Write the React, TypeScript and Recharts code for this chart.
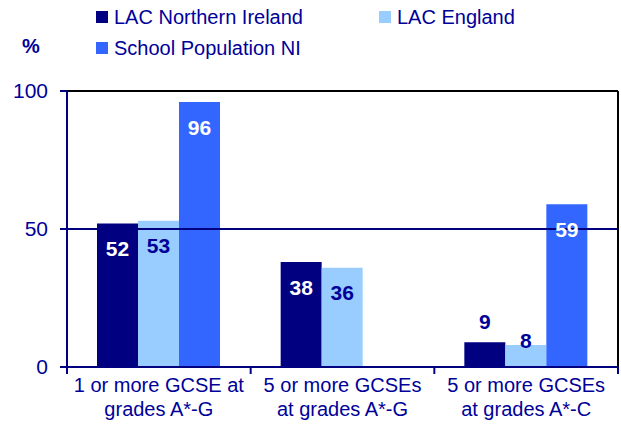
import { BarChart, Bar, XAxis, YAxis, ReferenceLine, LabelList } from 'recharts'

const categories = ['1 or more GCSE at|grades A*-G', '5 or more GCSEs|at grades A*-G', '5 or more GCSEs|at grades A*-C']
const lacNorthernIreland = [52, 38, 9]
const lacEngland = [53, 36, 8]
const schoolPopulationNI = [96, null, 59]
const yTicks = [0, 50, 100]

const NAVY = '#000080'
const TEXT = '#000099'
const LIGHT = '#99CCFF'
const BLUE = '#3366FF'
const FONT = '"Liberation Sans", Arial, sans-serif'

const data = categories.map((name, i) => ({
    name,
    ni: lacNorthernIreland[i],
    eng: lacEngland[i],
    school: schoolPopulationNI[i],
}))

const legendItems = [
    { name: 'LAC Northern Ireland', color: NAVY, left: 96, top: 17 },
    { name: 'LAC England', color: LIGHT, left: 379, top: 17 },
    { name: 'School Population NI', color: BLUE, left: 96, top: 48 },
]

// inside-top label, small bars get it above the bar
const makeLabel = (inside: string, smallOffset: number) => (props: any) => {
    const { x, y, width, value } = props
    if (value === null || value === undefined) return null
    const v = Number(value)
    const small = v < 15
    const cy = small ? Number(y) - smallOffset : Number(y) + 25
    return (
        <text
            x={Number(x) + Number(width) / 2}
            y={cy}
            dy="0.36em"
            textAnchor="middle"
            fill={small ? TEXT : inside}
            fontSize={21}
            fontWeight="bold"
            fontFamily={FONT}
        >
            {v}
        </text>
    )
}

const CategoryTick = (props: any) => {
    const { x, y, payload, index } = props
    const half = payload && payload.offset ? payload.offset : 91.8
    const lines = String(payload.value).split('|')
    return (
        <g>
            <line x1={x - half} x2={x - half} y1={y} y2={y + 7} stroke={NAVY} strokeWidth={2} />
            {index === categories.length - 1 && (
                <line x1={x + half} x2={x + half} y1={y} y2={y + 7} stroke={NAVY} strokeWidth={2} />
            )}
            {lines.map((l, i) => (
                <text key={l} x={x} y={y + 25 + i * 24} textAnchor="middle" fill={TEXT} fontSize={20} fontFamily={FONT}>
                    {l}
                </text>
            ))}
        </g>
    )
}

const App = () => {
    return (
        <div style={{ position: 'absolute', left: 0, top: 0, width: 621, height: 432, fontFamily: FONT, background: '#fff' }}>
            {legendItems.map((item) => (
                <div key={item.name} style={{ position: 'absolute', left: item.left, top: item.top - 12, height: 24, display: 'flex', alignItems: 'center' }}>
                    <div style={{ width: 12, height: 12, background: item.color, marginRight: 6 }} />
                    <span style={{ color: TEXT, fontSize: 20 }}>{item.name}</span>
                </div>
            ))}
            <div style={{ position: 'absolute', left: 22, top: 35, color: TEXT, fontSize: 20, fontWeight: 'bold' }}>%</div>
            <BarChart
                width={621}
                height={432}
                data={data}
                margin={{ top: 91, right: 0, left: 0, bottom: 0 }}
                barGap={0}
                barSize={41}
            >
                <ReferenceLine y={50} stroke={NAVY} strokeWidth={2} />
                <ReferenceLine y={100} stroke="#000" strokeWidth={2} />
                <XAxis
                    dataKey="name"
                    height={65}
                    axisLine={{ stroke: NAVY, strokeWidth: 2 }}
                    tickLine={false}
                    tickSize={0}
                    tickMargin={0}
                    interval={0}
                    tick={<CategoryTick />}
                />
                <YAxis
                    width={67}
                    domain={[0, 100]}
                    ticks={yTicks}
                    axisLine={{ stroke: NAVY, strokeWidth: 2 }}
                    tickLine={{ stroke: NAVY, strokeWidth: 2 }}
                    tickSize={7}
                    tickMargin={12}
                    tick={{ fill: TEXT, fontSize: 21, fontFamily: FONT }}
                />
                <YAxis yAxisId="frame" orientation="right" width={3} axisLine={{ stroke: '#000', strokeWidth: 2 }} tick={false} tickLine={false} />
                <Bar dataKey="ni" fill={NAVY} isAnimationActive={false}>
                    <LabelList dataKey="ni" content={makeLabel('#fff', 21)} />
                </Bar>
                <Bar dataKey="eng" fill={LIGHT} isAnimationActive={false}>
                    <LabelList dataKey="eng" content={makeLabel(TEXT, 4)} />
                </Bar>
                <Bar dataKey="school" fill={BLUE} isAnimationActive={false}>
                    <LabelList dataKey="school" content={makeLabel('#fff', 21)} />
                </Bar>
            </BarChart>
        </div>
    )
}

export default App
